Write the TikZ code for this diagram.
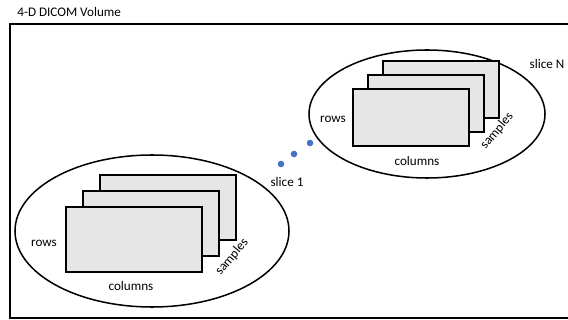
\documentclass[tikz,border=0pt]{standalone}
\usepackage{fontspec}
\setmainfont{Carlito}
\usetikzlibrary{calc}
\definecolor{sheetGray}{HTML}{E7E6E6}
\definecolor{dotBlue}{HTML}{4472C4}

\begin{document}
\begin{tikzpicture}[
  x=0.03cm, y=-0.03cm,
  line cap=round,
  every node/.style={font=\fontsize{11.2}{13}\selectfont, inner sep=1pt},
  sheet/.style={draw=black, fill=sheetGray, line width=1.8pt},
  blob/.style={draw=black, line width=1.3pt}
]
  \useasboundingbox (0,0) rectangle (568,320);
  \clip (0,0) rectangle (568,320);

  % Volume frame
  \draw[line width=1.3pt] (10,24) rectangle (580,318);
  \node[anchor=west] (title) at (16,12) {4-D DICOM Volume};

  % First slice
  \coordinate (lowC) at (152,231);
  \draw[blob] (lowC) ellipse [x radius=137, y radius=76];
  \foreach \k in {2,1,0} {
    \draw[sheet] ($(66,207)+(17*\k,-16*\k)$) rectangle ++(136,65);
  }
  \node (lowRows) at (44,243) {rows};
  \node (lowCols) at (131,286) {columns};
  \node[rotate=50] (lowSamp) at (232,257) {samples};

  % Last slice
  \coordinate (upC) at (427,114);
  \draw[blob] (upC) ellipse [x radius=118, y radius=64];
  \foreach \k in {2,1,0} {
    \draw[sheet] ($(353,89)+(15*\k,-14*\k)$) rectangle ++(116,57);
  }
  \node (upRows) at (333,119) {rows};
  \node (upCols) at (417,161) {columns};
  \node[rotate=50] (upSamp) at (497,131) {samples};

  % Slice labels and dots
  \node (sliceN) at (547,64) {slice N};
  \node (slice1) at (287,182) {slice 1};
  \foreach \p in {(281,164),(294,154),(310,143)} {
    \fill[dotBlue] \p circle (3.3);
  }
\end{tikzpicture}
\end{document}
